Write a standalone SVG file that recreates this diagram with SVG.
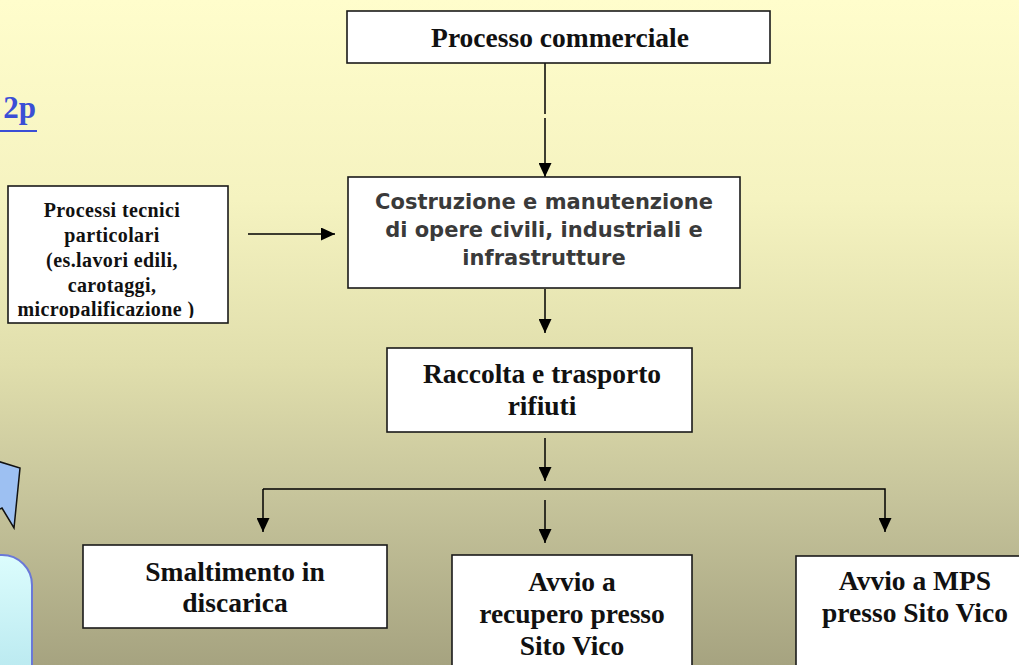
<svg xmlns="http://www.w3.org/2000/svg" width="1019" height="665" viewBox="0 0 1019 665">
  <defs>
    <linearGradient id="bg" x1="0" y1="0" x2="0" y2="1">
      <stop offset="0" stop-color="#fffdcc"/>
      <stop offset="0.3" stop-color="#f5f3c0"/>
      <stop offset="0.55" stop-color="#e0deac"/>
      <stop offset="0.75" stop-color="#c6c49b"/>
      <stop offset="1" stop-color="#a6a380"/>
    </linearGradient>
    <linearGradient id="cyan" x1="0" y1="0" x2="0" y2="1">
      <stop offset="0" stop-color="#dcfdfd"/>
      <stop offset="1" stop-color="#b8e8ef"/>
    </linearGradient>
    <marker id="arr" markerUnits="userSpaceOnUse" markerWidth="14" markerHeight="13" refX="14" refY="6.5" orient="auto">
      <path d="M0,0 L14,6.5 L0,13 Z" fill="#000"/>
    </marker>
    <clipPath id="clipPT">
      <rect x="8" y="186" width="220" height="132"/>
    </clipPath>
    <style>
      .box { fill: #ffffff; stroke: #1a1a1a; stroke-width: 1.6; }
      .serif { font-family: "Liberation Serif", "Times New Roman", serif; font-weight: bold; fill: #111; text-anchor: middle; }
      .big { font-size: 27.5px; }
      .small { font-size: 20px; letter-spacing: 0.4px; }
      .sans { font-family: "DejaVu Sans", Verdana, sans-serif; font-weight: bold; font-size: 21px; fill: #3a3a3a; text-anchor: middle; }
      .conn { stroke: #000; stroke-width: 1.5; fill: none; }
    </style>
  </defs>

  <rect x="0" y="0" width="1019" height="665" fill="url(#bg)"/>

  <g id="side-link">
    <text x="36" y="118" font-family="Liberation Serif, serif" font-weight="bold" font-size="31" fill="#3a4ed6" text-anchor="end">2p</text>
    <rect x="0" y="130" width="37" height="2" fill="#3a4ed6"/>
  </g>

  <g id="side-callout">
    <polygon points="-6,460 20,468 14,528 2,508 -6,512" fill="#9dc0f2" stroke="#111" stroke-width="1.5"/>
  </g>

  <g id="side-panel">
    <path d="M-20,555 L2,555 A30,30 0 0 1 32,585 L32,680 L-20,680 Z" fill="url(#cyan)" stroke="#6a78d8" stroke-width="2"/>
  </g>

  <g id="connectors">
    <line class="conn" x1="545" y1="63" x2="545" y2="114"/>
    <line class="conn" x1="545" y1="118" x2="545" y2="177" marker-end="url(#arr)"/>
    <line class="conn" x1="248" y1="234" x2="335" y2="234" marker-end="url(#arr)"/>
    <line class="conn" x1="545" y1="289" x2="545" y2="333" marker-end="url(#arr)"/>
    <line class="conn" x1="545" y1="438" x2="545" y2="481" marker-end="url(#arr)"/>
    <polyline class="conn" points="263,489 885,489 885,532" marker-end="url(#arr)"/>
    <line class="conn" x1="263" y1="489" x2="263" y2="532" marker-end="url(#arr)"/>
    <line class="conn" x1="545" y1="500" x2="545" y2="543" marker-end="url(#arr)"/>
  </g>

  <g id="node-processo-commerciale">
    <rect class="box" x="347" y="11" width="423" height="52"/>
    <text class="serif big" x="560" y="47">Processo commerciale</text>
  </g>

  <g id="node-processi-tecnici">
    <rect class="box" x="8" y="186" width="220" height="137"/>
    <g clip-path="url(#clipPT)">
      <text class="serif small" x="112" y="217">Processi tecnici</text>
      <text class="serif small" x="112" y="242">particolari</text>
      <text class="serif small" x="112" y="267">(es.lavori edili,</text>
      <text class="serif small" x="112" y="292">carotaggi,</text>
      <text class="serif small" x="106" y="316">micropalificazione )</text>
    </g>
  </g>

  <g id="node-costruzione">
    <rect class="box" x="348" y="177" width="392" height="111"/>
    <text class="sans" x="544" y="209">Costruzione e manutenzione</text>
    <text class="sans" x="544" y="237">di opere civili, industriali e</text>
    <text class="sans" x="544" y="265">infrastrutture</text>
  </g>

  <g id="node-raccolta">
    <rect class="box" x="387" y="348" width="305" height="84"/>
    <text class="serif big" x="542" y="383">Raccolta e trasporto</text>
    <text class="serif big" x="542" y="415">rifiuti</text>
  </g>

  <g id="node-smaltimento">
    <rect class="box" x="83" y="545" width="304" height="83"/>
    <text class="serif big" x="235" y="581">Smaltimento in</text>
    <text class="serif big" x="235" y="612">discarica</text>
  </g>

  <g id="node-recupero">
    <rect class="box" x="452" y="555" width="240" height="120"/>
    <text class="serif big" x="572" y="591">Avvio a</text>
    <text class="serif big" x="572" y="623">recupero presso</text>
    <text class="serif big" x="572" y="655">Sito Vico</text>
  </g>

  <g id="node-mps">
    <rect class="box" x="796" y="556" width="240" height="120"/>
    <text class="serif big" x="915" y="590">Avvio a MPS</text>
    <text class="serif big" x="915" y="622">presso Sito Vico</text>
  </g>
</svg>
